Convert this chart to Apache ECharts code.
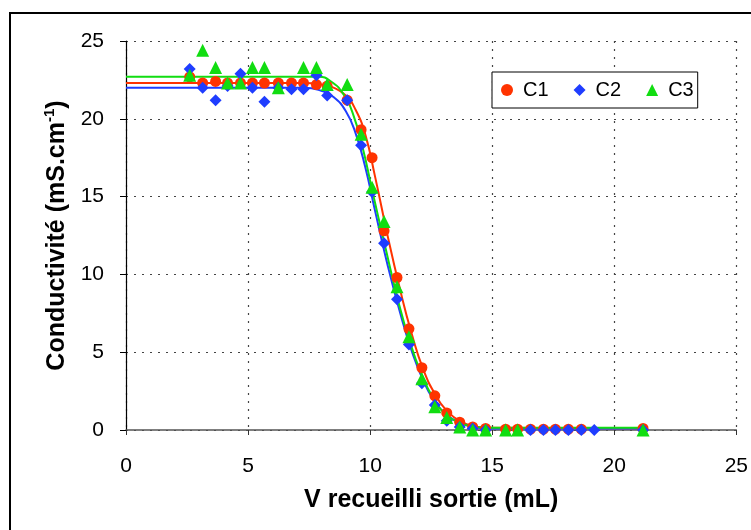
<!DOCTYPE html>
<html><head><meta charset="utf-8">
<script src="https://cdn.jsdelivr.net/npm/echarts@6/dist/echarts.min.js"></script>
<style>html,body{margin:0;padding:0;background:#fff}#c{width:751px;height:530px}</style>
</head><body><div id="c"></div>
<script>
// Measured points
const c1X = [2.61,3.14,3.67,4.16,4.69,5.18,5.67,6.24,6.78,7.27,7.80,8.24,9.06,9.63,10.08,10.57,11.10,11.59,12.12,12.65,13.14,13.67,14.20,14.73,15.55,16.04,16.57,17.10,17.59,18.12,18.65,21.18];
const c1Y = [22.7,22.3,22.4,22.3,22.3,22.3,22.3,22.3,22.3,22.3,22.2,22.1,21.2,19.3,17.5,12.8,9.8,6.5,4.0,2.2,1.1,0.5,0.2,0.1,0.05,0.05,0.05,0.05,0.05,0.05,0.05,0.1];
const c2X = [2.61,3.14,3.67,4.16,4.69,5.18,5.67,6.24,6.78,7.27,7.80,8.24,9.06,9.63,10.08,10.57,11.10,11.59,12.12,12.65,13.14,13.67,14.20,14.73,16.57,17.10,17.59,18.12,18.65,19.18,21.18];
const c2Y = [23.2,22.0,21.2,22.1,22.9,22.0,21.1,22.0,21.9,21.9,22.8,21.5,21.2,18.3,15.3,12.0,8.4,5.5,3.0,1.6,0.6,0.2,0.1,0.0,0,0,0,0,0,0,0];
const c3X = [2.61,3.14,3.67,4.16,4.69,5.18,5.67,6.24,7.27,7.80,8.24,9.06,9.63,10.08,10.57,11.10,11.59,12.12,12.65,13.14,13.67,14.20,14.73,15.55,16.04,21.18];
const c3Y = [22.8,24.4,23.3,22.3,22.3,23.3,23.3,22.0,23.3,23.3,22.2,22.2,19.0,15.6,13.4,9.2,6.0,3.3,1.5,0.8,0.2,0.0,0.0,0,0,0];

// Fitted curves
const f1X = [0,7.3,8.0,8.5,9.0,9.4,9.8,10.2,10.7,11.2,11.7,12.2,12.7,13.2,13.7,14.2,14.8,21.2];
const f1Y = [22.3,22.3,22.2,22.0,21.5,20.6,19.0,16.3,12.6,9.2,6.2,3.8,2.2,1.15,0.55,0.25,0.15,0.1];
const f2X = [0,7.3,8.0,8.5,9.0,9.4,9.8,10.2,10.7,11.2,11.7,12.2,12.7,13.2,13.7,14.2,14.8,21.2];
const f2Y = [22.0,22.0,21.8,21.4,20.5,19.1,16.9,14.1,10.7,7.7,5.1,3.1,1.75,0.9,0.45,0.2,0.1,0.1];
const f3X = [0,7.9,8.4,8.9,9.3,9.7,10.1,10.6,11.1,11.6,12.1,12.6,13.1,13.6,14.1,14.7,21.2];
const f3Y = [22.7,22.7,22.4,21.6,20.3,18.1,15.3,11.9,8.6,5.8,3.6,2.0,1.0,0.5,0.25,0.15,0.15];

const xTicks = [0,5,10,15,20,25];
const yTicks = [0,5,10,15,20,25];

const RED = '#ff3300', BLUE = '#1f3dff', GREEN = '#11dd11';
const zip = (a,b) => a.map((v,i)=>[v,b[i]]);
const FONT = '"Liberation Sans", Arial, sans-serif';

const chart = echarts.init(document.getElementById('c'), null, {renderer:'canvas'});
chart.setOption({
  animation:false,
  backgroundColor:'#fff',
  textStyle:{fontFamily:FONT},
  grid:{left:126, top:41, right:13, bottom:100, containLabel:false},
  graphic:[{type:'rect', shape:{x:10,y:13,width:800,height:600}, style:{fill:'none', stroke:'#000', lineWidth:2}, silent:true, z:100}],
  legend:{
    data:['C1','C2','C3'], left:492, top:72,
    padding:[8,4,8,9], itemGap:25, itemWidth:12, itemHeight:12,
    borderColor:'#000', borderWidth:1, backgroundColor:'#fff',
    textStyle:{fontSize:20, color:'#000', fontFamily:FONT, padding:[0,0,0,5]}
  },
  xAxis:{
    type:'value', min:xTicks[0], max:xTicks[xTicks.length-1], interval:5,
    name:'V recueilli sortie (mL)', nameLocation:'middle', nameGap:58,
    nameTextStyle:{fontSize:25, fontWeight:'bold', color:'#000', fontFamily:FONT},
    axisLine:{show:true, onZero:false, lineStyle:{color:'#555', width:1.5}},
    axisTick:{show:true, inside:false, length:5, lineStyle:{color:'#333'}},
    axisLabel:{fontSize:21, color:'#000', margin:26, fontFamily:FONT},
    splitLine:{show:true, lineStyle:{color:'#444', type:[2,6], width:1.2}}
  },
  yAxis:{
    type:'value', min:yTicks[0], max:yTicks[yTicks.length-1], interval:5,
    name:'{t|Conductivité (mS.cm}{s|-1}{t|)}', nameLocation:'middle', nameGap:40, nameRotate:90,
    nameTextStyle:{rich:{
      t:{fontSize:25, fontWeight:'bold', color:'#000', fontFamily:FONT, lineHeight:28},
      s:{fontSize:15, fontWeight:'bold', color:'#000', fontFamily:FONT, lineHeight:28, verticalAlign:'top', padding:[0,0,12,0]}
    }},
    axisLine:{show:true, onZero:false, lineStyle:{color:'#000', width:1.2}},
    axisTick:{show:true, inside:false, length:6, lineStyle:{color:'#000'}},
    axisLabel:{fontSize:21, color:'#000', margin:22, fontFamily:FONT},
    splitLine:{show:true, lineStyle:{color:'#444', type:[2,6], width:1.2}}
  },
  series:[
    {name:'f1', type:'line', data:zip(f1X,f1Y), showSymbol:false, smooth:0.5, lineStyle:{color:RED, width:2}, itemStyle:{color:RED}, z:2},
    {name:'f2', type:'line', data:zip(f2X,f2Y), showSymbol:false, smooth:0.5, lineStyle:{color:BLUE, width:2}, itemStyle:{color:BLUE}, z:2},
    {name:'f3', type:'line', data:zip(f3X,f3Y), showSymbol:false, smooth:0.5, lineStyle:{color:GREEN, width:2}, itemStyle:{color:GREEN}, z:2},
    {name:'C1', type:'scatter', data:zip(c1X,c1Y), symbol:'circle', symbolSize:11, itemStyle:{color:RED, opacity:1}, z:3},
    {name:'C2', type:'scatter', data:zip(c2X,c2Y), symbol:'diamond', symbolSize:12, itemStyle:{color:BLUE, opacity:1}, z:4},
    {name:'C3', type:'scatter', data:zip(c3X,c3Y), symbol:'triangle', symbolSize:13, itemStyle:{color:GREEN, opacity:1}, z:5}
  ]
});
</script></body></html>
